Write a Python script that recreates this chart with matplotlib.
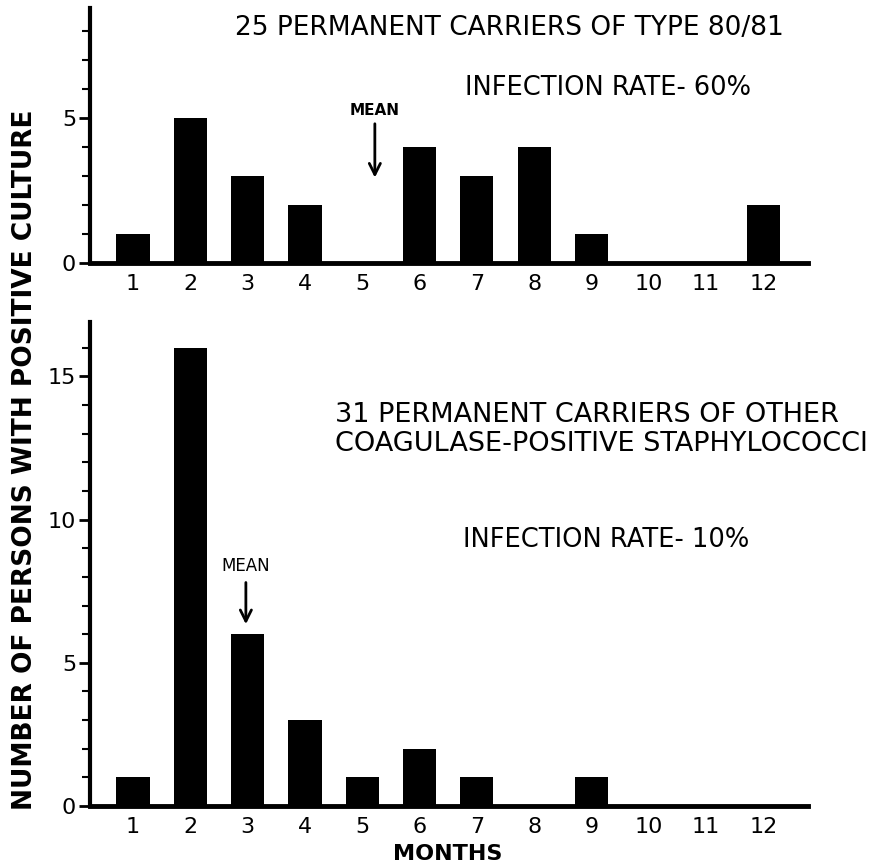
import numpy as np
import matplotlib.pyplot as plt
from matplotlib.ticker import MultipleLocator

months = np.arange(1, 13)
month_labels = [str(m) for m in months]
type8081_counts = [1, 5, 3, 2, 0, 4, 3, 4, 1, 0, 0, 2]
other_counts = [1, 16, 6, 3, 1, 2, 1, 0, 1, 0, 0, 0]
mean_top = 5.22
mean_bottom = 2.97

plt.rcParams['font.family'] = ['DejaVu Sans']
fig = plt.figure(figsize=(8.96, 8.67), dpi=100)
ax1 = fig.add_axes([0.1004, 0.6967, 0.8016, 0.2941])
ax2 = fig.add_axes([0.1004, 0.0704, 0.8016, 0.5582])


def style(ax, counts, ymax, major):
    ax.bar(months, counts, width=0.58, color='black')
    ax.set_xlim(0.25, 12.78)
    ax.set_ylim(0, ymax)
    ax.spines['top'].set_visible(False)
    ax.spines['right'].set_visible(False)
    ax.spines['left'].set_linewidth(3)
    ax.spines['bottom'].set_linewidth(3.5)
    ax.set_xticks(months)
    ax.set_xticklabels(month_labels, fontsize=16)
    ax.tick_params(axis='x', length=0, pad=8)
    ax.yaxis.set_major_locator(MultipleLocator(major))
    ax.yaxis.set_minor_locator(MultipleLocator(1))
    ax.tick_params(axis='y', which='major', length=8, width=2, labelsize=16, pad=2)
    ax.tick_params(axis='y', which='minor', length=6, width=1.5)


style(ax1, type8081_counts, 8.8, 5)
style(ax2, other_counts, 16.9, 5)

# top panel annotations
ax1.text((235 - 90) / 718, 0.92, '25 PERMANENT CARRIERS OF TYPE 80/81', transform=ax1.transAxes,
         fontsize=19, ha='left', va='center')
ax1.text((465 - 90) / 718, 0.686, 'INFECTION RATE- 60%', transform=ax1.transAxes,
         fontsize=18.5, ha='left', va='center')
ax1.annotate('', xy=(mean_top, 2.85), xytext=(mean_top, 4.9),
             arrowprops=dict(arrowstyle='->', lw=2, color='black', mutation_scale=20))
ax1.text(mean_top, 5.25, 'MEAN', fontsize=11, fontweight='bold', ha='center', va='center')

# bottom panel annotations
ax2.text((335 - 90) / 718, 0.777, '31 PERMANENT CARRIERS OF OTHER\nCOAGULASE-POSITIVE STAPHYLOCOCCI',
         transform=ax2.transAxes, fontsize=19.5, ha='left', va='center', linespacing=1.15)
ax2.text((463 - 90) / 718, 0.55, 'INFECTION RATE- 10%', transform=ax2.transAxes,
         fontsize=18.5, ha='left', va='center')
ax2.annotate('', xy=(mean_bottom, 6.25), xytext=(mean_bottom, 7.9),
             arrowprops=dict(arrowstyle='->', lw=2, color='black', mutation_scale=20))
ax2.text(mean_bottom, 8.05, 'MEAN', fontsize=12, ha='center', va='bottom')

fig.text(0.028, 0.47, 'NUMBER OF PERSONS WITH POSITIVE CULTURE', rotation=90,
         fontsize=19, fontweight='bold', ha='center', va='center')
fig.text(0.5, 0.015, 'MONTHS', fontsize=16, fontweight='bold', ha='center', va='center')

fig.savefig('out.png', dpi=100)
